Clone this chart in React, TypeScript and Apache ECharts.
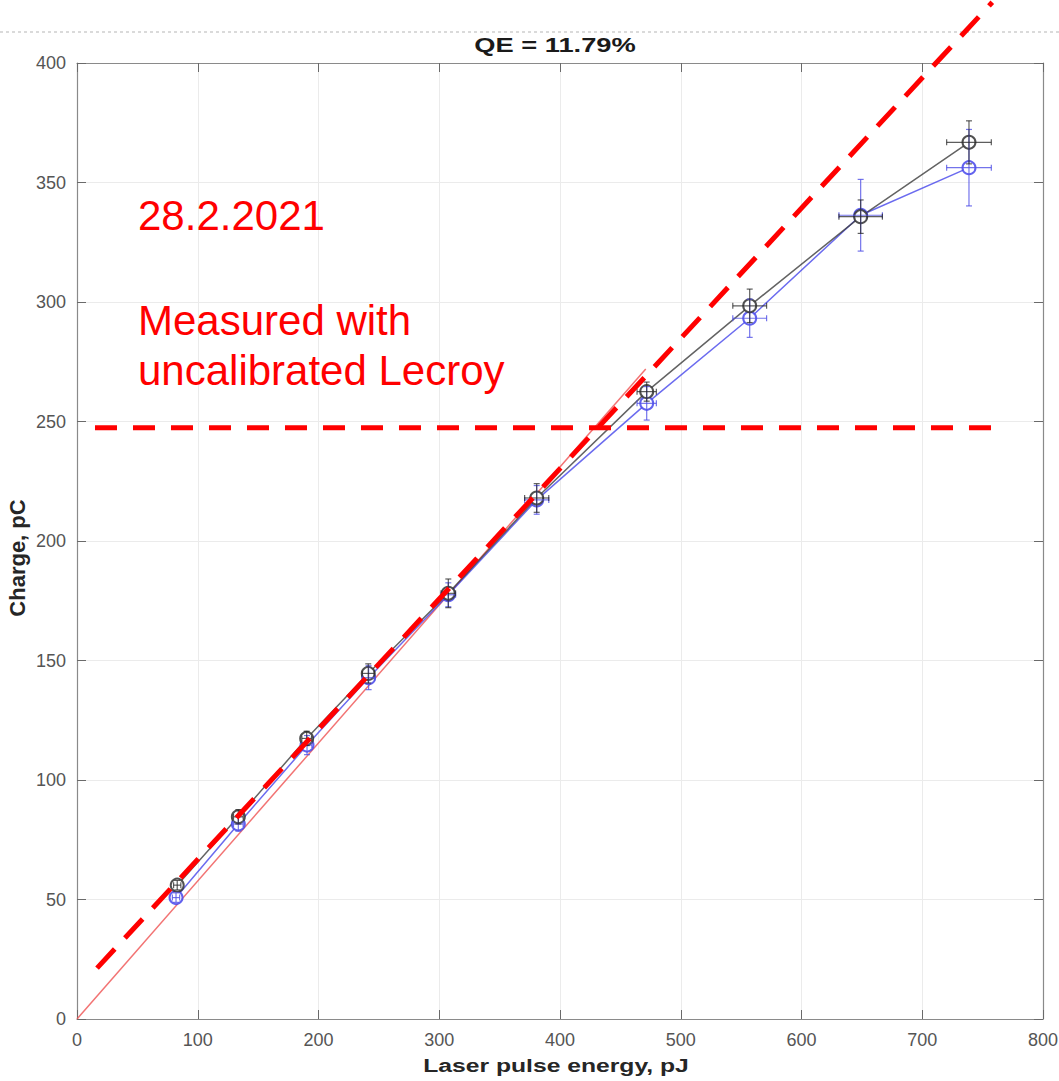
import React, { useEffect, useRef } from "react";
import * as echarts from "echarts";

// ---- data ----
const energyBlack = [83, 133.6, 190.2, 241.2, 307.5, 380.7, 471.8, 557.1, 649, 738.7];
const chargeBlack = [56, 84.6, 117.4, 144.6, 178.1, 218, 262.5, 298.4, 335.7, 366.8];
const energyBlue = [82, 133.6, 190.5, 241.5, 307.5, 380.7, 471.8, 557.1, 649, 738.7];
const chargeBlue = [50.8, 81.6, 114.6, 142.8, 177.5, 217.2, 257.6, 293.2, 336.3, 356.2];
const energyErr = [3, 4, 4, 5, 6, 10, 8, 14, 18, 18.5];
const chargeErrBlack = [2, 3, 3, 4, 6, 6, 4, 7, 7, 9];
const chargeErrBlue = [2, 3, 4, 5, 5, 6, 7, 8, 15, 16];
const qeLine = [[0, 0], [471, 272]];
const guideDiagonal = [[16.6, 21.3], [758, 425.4]];
const guideLevel = [[14.9, 247.4], [760, 247.4]];
const xTicks = [0, 100, 200, 300, 400, 500, 600, 700, 800];
const yTicks = [0, 50, 100, 150, 200, 250, 300, 350, 400];
const titleText = "QE = 11.79%";
const xName = "Laser pulse energy, pJ";
const yName = "Charge, pC";
const noteDate = "28.2.2021";
const noteLines = ["Measured with", "uncalibrated Lecroy"];

const FONT = "Liberation Sans, Arial, sans-serif";

function zip(xs: number[], ys: number[]) {
  return xs.map((x, i) => [x, ys[i]]);
}

function errSeries(xs: number[], ys: number[], ex: number[], ey: number[], color: string) {
  return {
    type: "custom",
    z: 4,
    silent: true,
    data: xs.map((x, i) => [x, ys[i], ex[i], ey[i]]),
    encode: { x: 0, y: 1 },
    renderItem: (params: any, api: any) => {
      const x = api.value(0), y = api.value(1), dx = api.value(2), dy = api.value(3);
      const t = api.coord([x, y + dy]);
      const b = api.coord([x, y - dy]);
      const l = api.coord([x - dx, y]);
      const r = api.coord([x + dx, y]);
      const c = 3;
      const st = { stroke: color, lineWidth: 1.2 };
      const ln = (x1: number, y1: number, x2: number, y2: number) => ({
        type: "line",
        shape: { x1, y1, x2, y2 },
        style: st,
      });
      return {
        type: "group",
        children: [
          ln(t[0], t[1], b[0], b[1]),
          ln(t[0] - c, t[1], t[0] + c, t[1]),
          ln(b[0] - c, b[1], b[0] + c, b[1]),
          ln(l[0], l[1], r[0], r[1]),
          ln(l[0], l[1] - c, l[0], l[1] + c),
          ln(r[0], r[1] - c, r[0], r[1] + c),
        ],
      };
    },
  };
}

export default function App() {
  const ref = useRef<HTMLDivElement>(null);
  useEffect(() => {
    if (!ref.current) return;
    const chart = echarts.init(ref.current, undefined, { renderer: "svg" });
    const axisLineStyle = { color: "#8a8a8a", width: 1.2 };
    const tickStyle = { color: "#6a6a6a", width: 1 };
    const labelStyle = { color: "#555555", fontSize: 18, fontFamily: FONT };
    const boldText = { fill: "#262626", fontWeight: "bold", fontFamily: FONT };
    chart.setOption({
      animation: false,
      backgroundColor: "#ffffff",
      grid: { left: 77, top: 63, width: 966, height: 956, outerBoundsMode: "none" },
      xAxis: [
        {
          type: "value",
          min: xTicks[0],
          max: xTicks[xTicks.length - 1],
          interval: xTicks[1] - xTicks[0],
          position: "bottom",
          axisLine: { show: true, onZero: false, lineStyle: axisLineStyle },
          axisTick: { show: true, inside: true, length: 9, lineStyle: tickStyle },
          axisLabel: { ...labelStyle, margin: 12 },
          splitLine: { show: true, lineStyle: { color: "#ebebeb", width: 1 } },
        },
        {
          type: "value",
          min: xTicks[0],
          max: xTicks[xTicks.length - 1],
          interval: xTicks[1] - xTicks[0],
          position: "top",
          axisLine: { show: true, onZero: false, lineStyle: axisLineStyle },
          axisTick: { show: true, inside: true, length: 9, lineStyle: tickStyle },
          axisLabel: { show: false },
          splitLine: { show: false },
        },
      ],
      yAxis: [
        {
          type: "value",
          min: yTicks[0],
          max: yTicks[yTicks.length - 1],
          interval: yTicks[1] - yTicks[0],
          position: "left",
          axisLine: { show: true, onZero: false, lineStyle: axisLineStyle },
          axisTick: { show: true, inside: true, length: 9, lineStyle: tickStyle },
          axisLabel: { ...labelStyle, margin: 11 },
          splitLine: { show: true, lineStyle: { color: "#ebebeb", width: 1 } },
        },
        {
          type: "value",
          min: yTicks[0],
          max: yTicks[yTicks.length - 1],
          interval: yTicks[1] - yTicks[0],
          position: "right",
          axisLine: { show: true, onZero: false, lineStyle: axisLineStyle },
          axisTick: { show: true, inside: true, length: 9, lineStyle: tickStyle },
          axisLabel: { show: false },
          splitLine: { show: false },
        },
      ],
      graphic: [
        {
          type: "line",
          shape: { x1: 0, y1: 32, x2: 1059, y2: 32 },
          style: { stroke: "#b5b5b5", lineWidth: 1, lineDash: [3, 3] },
          z: 1,
        },
        {
          type: "text",
          x: 555,
          y: 45,
          scaleX: 1.3,
          style: {
            ...boldText,
            fill: "#1a1a1a",
            text: titleText,
            fontSize: 21,
            textAlign: "center",
            textVerticalAlign: "middle",
          },
          z: 10,
        },
        {
          type: "text",
          x: 556,
          y: 1066,
          scaleX: 1.3,
          style: {
            ...boldText,
            text: xName,
            fontSize: 19,
            textAlign: "center",
            textVerticalAlign: "middle",
          },
          z: 10,
        },
        {
          type: "text",
          x: 17,
          y: 558,
          rotation: Math.PI / 2,
          style: {
            ...boldText,
            text: yName,
            fontSize: 22,
            textAlign: "center",
            textVerticalAlign: "middle",
          },
          z: 10,
        },
        {
          type: "text",
          x: 138,
          y: 215,
          style: {
            text: noteDate,
            fill: "#ff0000",
            fontSize: 42,
            fontFamily: FONT,
            textVerticalAlign: "middle",
          },
          z: 10,
        },
        ...noteLines.map((t, i) => ({
          type: "text",
          x: 138,
          y: 320 + i * 50,
          style: {
            text: t,
            fill: "#ff0000",
            fontSize: 42,
            fontFamily: FONT,
            textVerticalAlign: "middle",
          },
          z: 10,
        })),
      ],
      series: [
        {
          type: "line",
          data: qeLine,
          symbol: "none",
          silent: true,
          z: 1,
          lineStyle: { color: "rgba(240,90,90,0.85)", width: 1.5 },
        },
        {
          type: "line",
          data: zip(energyBlue, chargeBlue),
          symbol: "emptyCircle",
          symbolSize: 13,
          z: 3,
          itemStyle: { color: "rgba(70,70,235,0.85)", borderWidth: 1.4 },
          lineStyle: { color: "rgba(70,70,235,0.8)", width: 1.5 },
        },
        {
          type: "line",
          data: zip(energyBlack, chargeBlack),
          symbol: "emptyCircle",
          symbolSize: 13,
          z: 3,
          itemStyle: { color: "rgba(50,50,50,0.85)", borderWidth: 1.4 },
          lineStyle: { color: "rgba(60,60,60,0.8)", width: 1.5 },
        },
        errSeries(energyBlue, chargeBlue, energyErr, chargeErrBlue, "rgba(80,80,230,0.8)"),
        errSeries(energyBlack, chargeBlack, energyErr, chargeErrBlack, "rgba(40,40,40,0.75)"),
        {
          type: "line",
          data: guideLevel,
          symbol: "none",
          silent: true,
          clip: false,
          z: 8,
          lineStyle: { color: "#ff0000", width: 5, type: [22, 16] },
        },
        {
          type: "line",
          data: guideDiagonal,
          symbol: "none",
          silent: true,
          clip: false,
          z: 8,
          lineStyle: { color: "#ff0000", width: 5, type: [26, 15] },
        },
      ],
    });
    return () => chart.dispose();
  }, []);
  return (
    <div
      ref={ref}
      style={{ position: "absolute", left: 0, top: 0, width: 1059, height: 1081 }}
    />
  );
}
